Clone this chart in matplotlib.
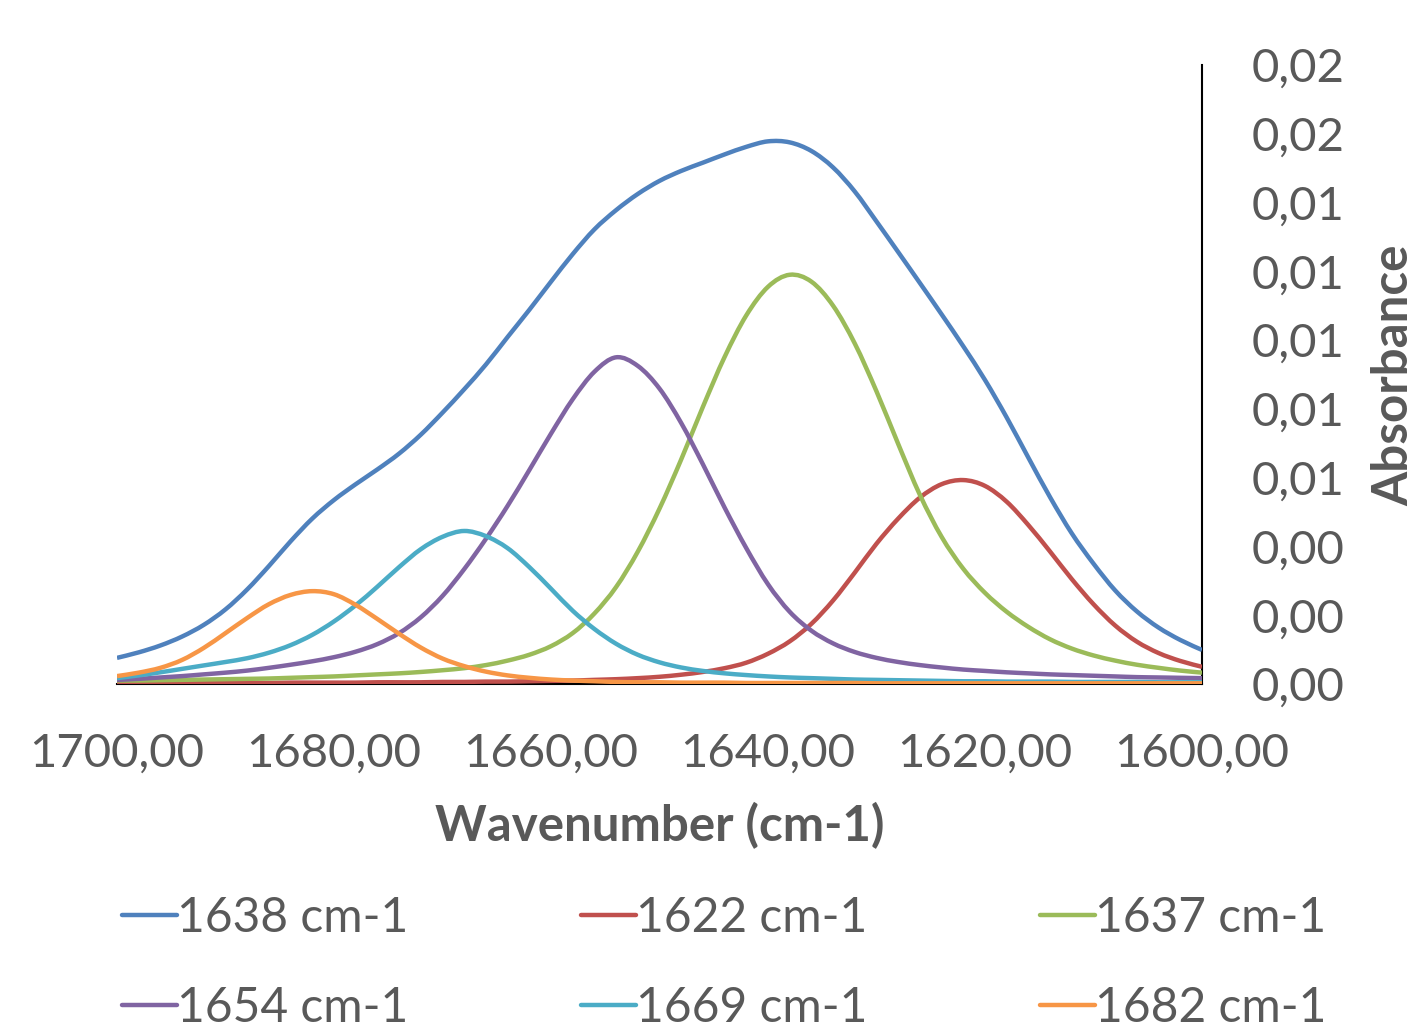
import matplotlib
matplotlib.use("Agg")
import matplotlib.pyplot as plt
from matplotlib.lines import Line2D
from matplotlib.patches import PathPatch
from matplotlib.path import Path
from matplotlib.ticker import FuncFormatter

# wavenumber grid (cm-1), read every 2 units from 1700 down to 1600
wavenumber = [
    1700, 1698, 1696, 1694, 1692, 1690, 1688, 1686, 1684, 1682,
    1680, 1678, 1676, 1674, 1672, 1670, 1668, 1666, 1664, 1662,
    1660, 1658, 1656, 1654, 1652, 1650, 1648, 1646, 1644, 1642,
    1640, 1638, 1636, 1634, 1632, 1630, 1628, 1626, 1624, 1622,
    1620, 1618, 1616, 1614, 1612, 1610, 1608, 1606, 1604, 1602,
    1600,
]

band_1638 = [
    0.00076, 0.00092, 0.00112, 0.00138, 0.00172, 0.00217, 0.00275, 0.00343, 0.00415, 0.00481,
    0.00535, 0.00581, 0.00624, 0.00670, 0.00725, 0.00789, 0.00857, 0.00929, 0.01009, 0.01088,
    0.01170, 0.01250, 0.01322, 0.01378, 0.01425, 0.01463, 0.01492, 0.01516, 0.01540, 0.01562,
    0.01578, 0.01575, 0.01550, 0.01502, 0.01432, 0.01345, 0.01256, 0.01166, 0.01075, 0.00982,
    0.00884, 0.00775, 0.00658, 0.00543, 0.00438, 0.00350, 0.00272, 0.00211, 0.00164, 0.00128,
    0.00099,
]
band_1622 = [
    0.00002, 0.00002, 0.00002, 0.00003, 0.00003, 0.00003, 0.00003, 0.00003, 0.00004, 0.00004,
    0.00004, 0.00004, 0.00005, 0.00005, 0.00005, 0.00006, 0.00006, 0.00007, 0.00007, 0.00008,
    0.00009, 0.00010, 0.00012, 0.00014, 0.00017, 0.00021, 0.00027, 0.00035, 0.00046, 0.00062,
    0.00088, 0.00124, 0.00175, 0.00243, 0.00324, 0.00408, 0.00481, 0.00542, 0.00581, 0.00593,
    0.00576, 0.00530, 0.00462, 0.00385, 0.00305, 0.00232, 0.00170, 0.00123, 0.00090, 0.00067,
    0.00050,
]
band_1637 = [
    0.00010, 0.00010, 0.00011, 0.00012, 0.00013, 0.00014, 0.00015, 0.00016, 0.00018, 0.00020,
    0.00022, 0.00025, 0.00028, 0.00031, 0.00035, 0.00040, 0.00046, 0.00055, 0.00068, 0.00085,
    0.00110, 0.00148, 0.00205, 0.00282, 0.00385, 0.00510, 0.00653, 0.00806, 0.00951, 0.01072,
    0.01155, 0.01190, 0.01170, 0.01100, 0.00990, 0.00851, 0.00698, 0.00550, 0.00428, 0.00335,
    0.00265, 0.00210, 0.00166, 0.00130, 0.00103, 0.00083, 0.00068, 0.00056, 0.00047, 0.00039,
    0.00033,
]
band_1654 = [
    0.00012, 0.00015, 0.00019, 0.00023, 0.00028, 0.00033, 0.00039, 0.00047, 0.00056, 0.00066,
    0.00078, 0.00094, 0.00116, 0.00148, 0.00194, 0.00256, 0.00334, 0.00422, 0.00518, 0.00622,
    0.00728, 0.00828, 0.00908, 0.00950, 0.00925, 0.00859, 0.00759, 0.00639, 0.00513, 0.00395,
    0.00290, 0.00210, 0.00155, 0.00118, 0.00093, 0.00076, 0.00064, 0.00055, 0.00048, 0.00042,
    0.00038, 0.00034, 0.00031, 0.00028, 0.00026, 0.00024, 0.00022, 0.00020, 0.00019, 0.00018,
    0.00017,
]
band_1669 = [
    0.00017, 0.00025, 0.00034, 0.00044, 0.00054, 0.00064, 0.00075, 0.00091, 0.00113, 0.00143,
    0.00182, 0.00229, 0.00283, 0.00340, 0.00392, 0.00428, 0.00445, 0.00430, 0.00395, 0.00340,
    0.00277, 0.00213, 0.00160, 0.00117, 0.00085, 0.00063, 0.00048, 0.00038, 0.00031, 0.00026,
    0.00022, 0.00019, 0.00017, 0.00015, 0.00013, 0.00012, 0.00011, 0.00010, 0.00009, 0.00008,
    0.00008, 0.00007, 0.00007, 0.00007, 0.00006, 0.00006, 0.00006, 0.00006, 0.00005, 0.00005,
    0.00005,
]
band_1682 = [
    0.00023, 0.00033, 0.00047, 0.00070, 0.00105, 0.00148, 0.00192, 0.00232, 0.00259, 0.00270,
    0.00261, 0.00230, 0.00189, 0.00146, 0.00106, 0.00074, 0.00052, 0.00036, 0.00025, 0.00018,
    0.00013, 0.00010, 0.00008, 0.00006, 0.00005, 0.00005, 0.00004, 0.00004, 0.00004, 0.00003,
    0.00003, 0.00003, 0.00003, 0.00003, 0.00003, 0.00002, 0.00002, 0.00002, 0.00002, 0.00002,
    0.00002, 0.00002, 0.00002, 0.00002, 0.00002, 0.00002, 0.00002, 0.00002, 0.00002, 0.00002,
    0.00002,
]

series = [
    ("1638 cm-1", band_1638, "#4F81BD"),
    ("1622 cm-1", band_1622, "#C0504D"),
    ("1637 cm-1", band_1637, "#9BBB59"),
    ("1654 cm-1", band_1654, "#8064A2"),
    ("1669 cm-1", band_1669, "#4BACC6"),
    ("1682 cm-1", band_1682, "#F79646"),
]

x_ticks = [1700, 1680, 1660, 1640, 1620, 1600]
y_ticks = [0.0, 0.002, 0.004, 0.006, 0.008, 0.010, 0.012, 0.014, 0.016, 0.018]

TEXT = "#595959"
FONT = "Lato"
LW = 3.2


def smooth_path(xs, ys):
    # spreadsheet-style smoothed line: bezier segments through every point
    n = len(xs)
    verts = [(xs[0], ys[0])]
    codes = [Path.MOVETO]
    for i in range(n - 1):
        p0 = max(i - 1, 0)
        p3 = min(i + 2, n - 1)
        c1 = (xs[i] + (xs[i + 1] - xs[p0]) / 6, ys[i] + (ys[i + 1] - ys[p0]) / 6)
        c2 = (xs[i + 1] - (xs[p3] - xs[i]) / 6, ys[i + 1] - (ys[p3] - ys[i]) / 6)
        verts += [c1, c2, (xs[i + 1], ys[i + 1])]
        codes += [Path.CURVE4] * 3
    return Path(verts, codes)


plt.rcParams["font.family"] = [FONT, "DejaVu Sans"]

fig = plt.figure(figsize=(14.22, 10.27), dpi=100)
ax = fig.add_axes([117 / 1422, 1 - 684 / 1027, (1202 - 117) / 1422, (684 - 65) / 1027])

handles = []
for label, values, color in series:
    ax.add_patch(PathPatch(smooth_path(wavenumber, values), fill=False,
                           edgecolor=color, lw=LW, capstyle="butt",
                           joinstyle="round", zorder=3))
    handles.append(Line2D([], [], color=color, lw=LW, solid_capstyle="round"))

ax.set_xlim(1700, 1600)
ax.set_ylim(0, 0.018)
ax.set_xticks(x_ticks)
ax.set_yticks(y_ticks)
ax.xaxis.set_major_formatter(FuncFormatter(lambda v, p: f"{v:.2f}".replace(".", ",")))
ax.yaxis.set_major_formatter(FuncFormatter(lambda v, p: f"{v:.2f}".replace(".", ",")))

ax.yaxis.tick_right()
ax.yaxis.set_label_position("right")
for side in ("left", "top"):
    ax.spines[side].set_visible(False)
for side in ("right", "bottom"):
    ax.spines[side].set_color("black")
    ax.spines[side].set_linewidth(1.5)

ax.tick_params(axis="x", length=0, pad=35, labelsize=34, labelcolor=TEXT)
ax.tick_params(axis="y", length=0, pad=36, labelsize=34, labelcolor=TEXT)

ax.set_xlabel("Wavenumber (cm-1)", fontsize=35.5, fontweight="bold", color=TEXT)
ax.xaxis.label.set_verticalalignment("center")
ax.xaxis.set_label_coords(0.5, -(826 - 684) / 619)

ax.set_ylabel("Absorbance", fontsize=35.5, fontweight="bold", color=TEXT)
ax.yaxis.label.set_verticalalignment("center")
ax.yaxis.label.set_horizontalalignment("center")
ax.yaxis.set_label_coords((1394 - 117) / 1085, (684 - 375) / 619)

# legend laid out row by row like the spreadsheet legend
order = [0, 3, 1, 4, 2, 5]
fig.legend([handles[i] for i in order], [series[i][0] for i in order],
           ncol=3, loc="upper left", bbox_to_anchor=(122 / 1422, 1 - 896 / 1027),
           frameon=False, fontsize=34.5, labelcolor=TEXT,
           handlelength=1.15, handletextpad=0.0, columnspacing=3.6,
           labelspacing=0.95, borderpad=0, borderaxespad=0)

fig.savefig("out.png", dpi=100, facecolor="white")
